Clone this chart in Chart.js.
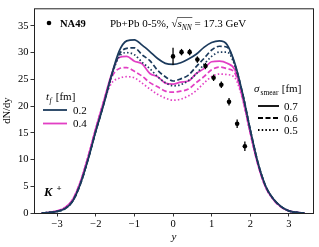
<!DOCTYPE html>
<html>
<head>
<meta charset="utf-8">
<script src="https://cdn.jsdelivr.net/npm/chart.js@4.4.1/dist/chart.umd.min.js"></script>
<style>
    html, body { margin: 0; padding: 0; background: #fff; }
    #wrap { position: relative; width: 319px; height: 247px; }
</style>
</head>
<body>
<div id="wrap"><canvas id="kaonChart" width="319" height="247"></canvas></div>
<script>
// Rapidity grid shared by the model curves
const rapidity = [-3.4, -3.2, -3.0, -2.8, -2.6, -2.4, -2.2, -2.0, -1.8, -1.6, -1.4, -1.2, -1.0, -0.8, -0.6, -0.4, -0.2,
    0.0, 0.2, 0.4, 0.6, 0.8, 1.0, 1.2, 1.4, 1.6, 1.8, 2.0, 2.2, 2.4, 2.6, 2.8, 3.0, 3.2, 3.4];

// t_f = 0.2 fm
const tf02Sig07 = [0.0, 0.1, 0.3, 0.8, 2.2, 5.4, 10.0, 15.3, 20.2, 25.6, 30.2, 32.2, 32.4, 31.4, 30.2, 28.9, 28.0,
    27.8, 28.1, 28.8, 29.7, 31.0, 31.9, 32.2, 31.5, 28.0, 22.4, 15.6, 9.4, 5.0, 2.6, 1.2, 0.4, 0.1, 0.0];
const tf02Sig06 = [0.0, 0.1, 0.3, 0.8, 2.2, 5.4, 10.0, 15.3, 20.2, 25.5, 29.6, 30.8, 30.9, 29.6, 28.5, 26.7, 25.5,
    24.7, 25.1, 25.8, 27.4, 28.9, 30.5, 31.2, 31.0, 27.8, 22.4, 15.6, 9.4, 5.0, 2.6, 1.2, 0.4, 0.1, 0.0];
const tf02Sig05 = [0.0, 0.1, 0.3, 0.8, 2.2, 5.4, 10.0, 15.3, 20.2, 25.4, 29.2, 30.0, 29.6, 28.2, 27.0, 25.5, 24.4,
    23.8, 24.0, 24.8, 26.0, 27.8, 29.3, 30.1, 30.1, 27.6, 22.3, 15.5, 9.3, 5.0, 2.6, 1.2, 0.4, 0.1, 0.0];

// t_f = 0.4 fm
const tf04Sig07 = [0.0, 0.1, 0.4, 1.0, 2.5, 5.8, 10.5, 15.8, 20.8, 25.8, 29.1, 29.3, 28.4, 27.9, 26.1, 25.5, 24.3,
    24.1, 24.5, 24.7, 26.1, 27.0, 28.3, 28.4, 28.0, 26.8, 21.6, 15.0, 9.0, 4.8, 2.5, 1.1, 0.4, 0.1, 0.0];
const tf04Sig06 = [0.0, 0.1, 0.4, 1.0, 2.5, 5.8, 10.5, 15.8, 20.8, 25.2, 27.0, 27.2, 26.5, 25.6, 24.4, 23.6, 22.8,
    22.6, 22.8, 23.2, 24.4, 25.5, 26.8, 27.3, 27.0, 26.2, 21.5, 15.0, 9.0, 4.8, 2.5, 1.1, 0.4, 0.1, 0.0];
const tf04Sig05 = [0.0, 0.1, 0.4, 1.0, 2.5, 5.8, 10.5, 15.7, 20.5, 24.2, 25.2, 25.5, 25.3, 24.3, 23.2, 22.2, 21.5,
    21.1, 21.3, 21.9, 22.9, 24.3, 25.5, 26.0, 25.9, 25.3, 21.3, 14.9, 9.0, 4.8, 2.5, 1.1, 0.4, 0.1, 0.0];

// NA49 K+ data
const na49Rapidity = [0.0, 0.22, 0.43, 0.63, 0.84, 1.05, 1.25, 1.45, 1.66, 1.86];
const na49Yield = [29.3, 30.1, 30.1, 28.7, 27.5, 25.3, 24.0, 20.8, 16.7, 12.5];
const na49Error = [1.6, 0.6, 0.6, 0.6, 0.6, 0.6, 0.6, 0.7, 0.8, 0.9];

const xTicks = [-3, -2, -1, 0, 1, 2, 3];
const yTicks = [0, 5, 10, 15, 20, 25, 30, 35];

const navy = '#1b3a5c';
const magenta = '#e23fc4';
const serif = '"Liberation Serif", "DejaVu Serif", serif';
const dashed = [5, 2.5];
const dotted = [1.5, 2.2];

function toPoints(xs, ys) {
    return xs.map((x, i) => ({ x: x, y: ys[i] }));
}

function curve(label, values, color, dash) {
    return {
        label: label,
        data: toPoints(rapidity, values),
        showLine: true,
        borderColor: color,
        borderWidth: 1.7,
        borderDash: dash,
        pointRadius: 0,
        fill: false,
        cubicInterpolationMode: 'monotone'
    };
}

// Error bars, frame and in-plot labels
const decorations = {
    id: 'decorations',
    afterDatasetsDraw(chart) {
        const ctx = chart.ctx;
        const xs = chart.scales.x;
        const ys = chart.scales.y;
        ctx.save();
        ctx.strokeStyle = '#000';
        ctx.lineWidth = 1.3;
        na49Rapidity.forEach((x, i) => {
            const px = xs.getPixelForValue(x);
            ctx.beginPath();
            ctx.moveTo(px, ys.getPixelForValue(na49Yield[i] - na49Error[i]));
            ctx.lineTo(px, ys.getPixelForValue(na49Yield[i] + na49Error[i]));
            ctx.stroke();
        });
        ctx.restore();
    },
    afterDraw(chart) {
        const ctx = chart.ctx;
        const a = chart.chartArea;
        ctx.save();

        // frame
        ctx.strokeStyle = '#222';
        ctx.lineWidth = 1;
        ctx.strokeRect(a.left + 0.5, a.top + 0.5, a.right - a.left - 1, a.bottom - a.top);

        ctx.fillStyle = '#000';
        ctx.textBaseline = 'alphabetic';

        // NA49 legend
        ctx.beginPath();
        ctx.arc(49, 23, 2.3, 0, Math.PI * 2);
        ctx.fill();
        ctx.font = 'bold 10.5px ' + serif;
        ctx.fillText('NA49', 60, 27);

        // system title
        let x = 110;
        const base = 27;
        ctx.font = '11px ' + serif;
        ctx.fillText('Pb+Pb 0-5%, ', x, base);
        x += ctx.measureText('Pb+Pb 0-5%, ').width;
        ctx.fillText('\u221A', x, base);
        x += ctx.measureText('\u221A').width;
        const barStart = x;
        ctx.font = 'italic 11px ' + serif;
        ctx.fillText('s', x, base);
        x += ctx.measureText('s').width;
        ctx.font = 'italic 7.5px ' + serif;
        ctx.fillText('NN', x, base + 2.5);
        x += ctx.measureText('NN').width;
        ctx.lineWidth = 0.7;
        ctx.beginPath();
        ctx.moveTo(barStart - 0.5, base - 9.5);
        ctx.lineTo(x + 0.5, base - 9.5);
        ctx.stroke();
        ctx.font = '11px ' + serif;
        ctx.fillText(' = 17.3 GeV', x, base);

        // t_f legend
        ctx.font = 'italic 11px ' + serif;
        ctx.fillText('t', 46, 100);
        ctx.font = 'italic 7.5px ' + serif;
        ctx.fillText('f', 49.5, 102.5);
        ctx.font = '11px ' + serif;
        ctx.fillText(' [fm]', 53, 100);
        ctx.lineWidth = 1.8;
        [[navy, 110, '0.2'], [magenta, 123.5, '0.4']].forEach(([c, y, t]) => {
            ctx.strokeStyle = c;
            ctx.beginPath();
            ctx.moveTo(43, y);
            ctx.lineTo(67, y);
            ctx.stroke();
            ctx.fillText(t, 73, y + 3.5);
        });

        // sigma_smear legend
        ctx.font = 'italic 11px ' + serif;
        ctx.fillText('\u03C3', 254, 92);
        ctx.font = '7.5px ' + serif;
        ctx.fillText('smear', 260.5, 94.5);
        ctx.font = '11px ' + serif;
        ctx.fillText(' [fm]', 279, 92);
        ctx.strokeStyle = '#000';
        [[[], 106, '0.7'], [dashed, 118, '0.6'], [dotted, 130, '0.5']].forEach(([d, y, t]) => {
            ctx.setLineDash(d);
            ctx.beginPath();
            ctx.moveTo(258, y);
            ctx.lineTo(279, y);
            ctx.stroke();
            ctx.fillText(t, 284, y + 3.5);
        });
        ctx.setLineDash([]);

        // particle label
        ctx.font = 'bold italic 12.5px ' + serif;
        ctx.fillText('K', 44, 196);
        ctx.font = 'bold 9px ' + serif;
        ctx.fillText('+', 56.5, 191);

        ctx.restore();
    }
};

new Chart(document.getElementById('kaonChart'), {
    type: 'scatter',
    data: {
        datasets: [
            {
                label: 'NA49',
                data: toPoints(na49Rapidity, na49Yield),
                pointRadius: 2.3,
                pointBackgroundColor: '#000',
                pointBorderWidth: 0,
                showLine: false
            },
            curve('0.2 / 0.7', tf02Sig07, navy, []),
            curve('0.2 / 0.6', tf02Sig06, navy, dashed),
            curve('0.2 / 0.5', tf02Sig05, navy, dotted),
            curve('0.4 / 0.7', tf04Sig07, magenta, []),
            curve('0.4 / 0.6', tf04Sig06, magenta, dashed),
            curve('0.4 / 0.5', tf04Sig05, magenta, dotted)
        ]
    },
    options: {
        responsive: false,
        animation: false,
        devicePixelRatio: 1,
        layout: { padding: { top: 5, right: 5, left: 0, bottom: 0 } },
        plugins: {
            legend: { display: false },
            tooltip: { enabled: false }
        },
        scales: {
            x: {
                type: 'linear',
                min: -3.6,
                max: 3.65,
                afterBuildTicks: scale => { scale.ticks = xTicks.map(v => ({ value: v })); },
                afterFit: scale => { scale.height = 34; },
                ticks: {
                    font: { family: serif, size: 10.5 },
                    color: '#000',
                    padding: 1,
                    maxRotation: 0,
                    callback: v => String(v).replace('-', '\u2212')
                },
                grid: { drawOnChartArea: false, tickLength: 3.5, color: '#000', lineWidth: 0.8 },
                border: { display: false },
                title: {
                    display: true,
                    text: 'y',
                    font: { family: serif, size: 11, style: 'italic' },
                    color: '#000',
                    padding: { top: 2, bottom: 3 }
                }
            },
            y: {
                min: 0,
                max: 38.3,
                afterBuildTicks: scale => { scale.ticks = yTicks.map(v => ({ value: v })); },
                afterFit: scale => { scale.width = 34; },
                ticks: {
                    font: { family: serif, size: 10.5 },
                    color: '#000',
                    padding: 2
                },
                grid: { drawOnChartArea: false, tickLength: 3.5, color: '#000', lineWidth: 0.8 },
                border: { display: false },
                title: {
                    display: true,
                    text: 'dN/dy',
                    font: { family: serif, size: 10.5 },
                    color: '#000',
                    padding: { top: 1, bottom: 1 }
                }
            }
        }
    },
    plugins: [decorations]
});
</script>
</body>
</html>
